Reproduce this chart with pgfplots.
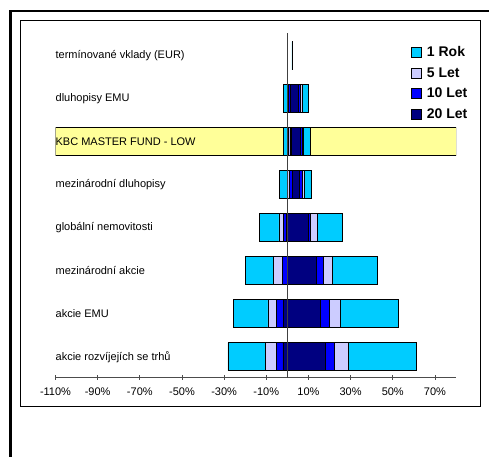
\documentclass[border=0pt]{standalone}
\usepackage{pgfplots}
\pgfplotsset{compat=1.18}
\usepackage{pgfplotstable}
\usepackage{fontspec}
\setmainfont{Liberation Sans}

\definecolor{rok1}{HTML}{00CCFF}
\definecolor{let5}{HTML}{CCCCFF}
\definecolor{let10}{HTML}{0000FF}
\definecolor{let20}{HTML}{000080}
\definecolor{kbc}{HTML}{FFFF99}

% range of returns in %, row 0 = bottom row
\pgfplotstableread{
pos l1 h1 l5 h5 l10 h10 l20 h20
7 2.15 2.45 2.3 2.3 2.3 2.3 2.3 2.3
6 -1.7 9.9 -0.1 6.9 0.6 6.2 1.4 5.3
5 -1.7 11.0 0.5 7.5 1.2 7.0 2.0 6.0
4 -3.6 11.3 0.0 8.0 1.0 7.2 2.6 5.9
3 -13.4 26.0 -4.0 14.2 -1.9 11.1 -0.6 10.0
2 -19.7 42.7 -6.4 21.4 -2.5 17.3 -0.1 13.8
1 -25.7 52.5 -9.2 25.2 -5.3 19.8 -2.0 15.5
0 -28.2 61.2 -10.3 29.1 -5.3 22.2 -2.1 18.1
}\ranges

\pgfplotsset{
  frame/.style={
    at={(55.5bp,79.3bp)}, anchor=south west,
    scale only axis, width=400.5bp, height=344.7bp,
    xmin=-110, xmax=80, ymin=-0.488, ymax=7.528,
  },
  gap/.style={draw=none, fill=none, forget plot},
  rng/.style={draw=black, line width=0.8bp, fill=#1},
}

\begin{document}
\begin{tikzpicture}
\useasboundingbox (0,0) rectangle (489bp,457bp);
\draw[line width=2.3bp] (10.5bp,-3bp) -- (10.5bp,446bp) -- (492bp,446bp);
\draw[line width=0.9bp] (20.3bp,50.7bp) rectangle (480.3bp,436.7bp);

% yellow band behind the fund row
\begin{axis}[frame, hide axis]
\addplot[xbar, bar shift=0pt, bar width=27.7bp, fill=kbc, draw=black, line width=0.8bp]
  coordinates {(-110,5) (80,5)};
\end{axis}

\begin{axis}[frame,
  xbar stacked, stack negative=on previous, reverse stacked plots=false,
  bar width=27.7bp,
  axis lines*=left,
  y axis line style={draw=none},
  x axis line style={black!70, line width=0.8bp},
  xtick={-110,-90,...,70},
  xticklabels={-110\%,-90\%,-70\%,-50\%,-30\%,-10\%,10\%,30\%,50\%,70\%},
  xtick style={black!70, line width=0.8bp},
  xticklabel style={yshift=-4bp},
  tick align=center, major tick length=4.5bp,
  ytick={0,...,7},
  yticklabels={akcie rozvíjejích se trhů, akcie EMU, mezinárodní akcie,
    globální nemovitosti, mezinárodní dluhopisy, KBC MASTER FUND - LOW,
    dluhopisy EMU, termínované vklady (EUR)},
  ytick style={draw=none},
  yticklabel style={anchor=west, inner sep=0pt, xshift=2.2bp},
  ticklabel style={font=\fontsize{11bp}{13bp}\selectfont},
  legend style={at={(0.880,0.973)}, anchor=north west, draw=none, fill=none,
    font=\fontsize{14bp}{16bp}\selectfont\bfseries, row sep=5.5bp},
  legend cell align=left,
  legend image code/.code={\draw[#1, line width=0.8bp] (0bp,-5bp) rectangle (10bp,5bp);
    \path (13bp,0bp);},
]
\addplot[gap] table[x=l1, y=pos] {\ranges};
\addplot[rng=rok1] table[x expr=\thisrow{h1}-\thisrow{l1}, y=pos] {\ranges};
\addlegendentry{1 Rok}
\addplot[gap] table[x expr=\thisrow{l5}-\thisrow{h1}, y=pos] {\ranges};
\addplot[rng=let5] table[x expr=\thisrow{h5}-\thisrow{l5}, y=pos] {\ranges};
\addlegendentry{5 Let}
\addplot[gap] table[x expr=\thisrow{l10}-\thisrow{h5}, y=pos] {\ranges};
\addplot[rng=let10] table[x expr=\thisrow{h10}-\thisrow{l10}, y=pos] {\ranges};
\addlegendentry{10 Let}
\addplot[gap] table[x expr=\thisrow{l20}-\thisrow{h10}, y=pos] {\ranges};
\addplot[rng=let20] table[x expr=\thisrow{h20}-\thisrow{l20}, y=pos] {\ranges};
\addlegendentry{20 Let}
\draw[black!75, line width=0.9bp] (axis cs:0,-0.488) -- (axis cs:0,7.528);
\end{axis}
\end{tikzpicture}
\end{document}
